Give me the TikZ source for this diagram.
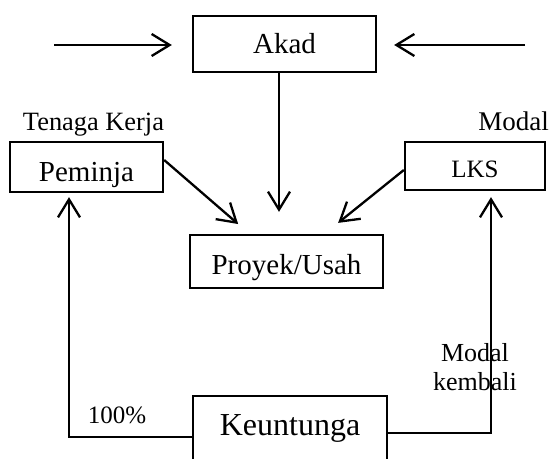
\documentclass[tikz,border=0pt]{standalone}
\usepackage{fontspec}
\setmainfont{Liberation Serif}
\usetikzlibrary{arrows.meta}
\begin{document}
\begin{tikzpicture}[x=0.5pt,y=-0.5pt,
  boxnode/.style={draw,line width=1.15pt,inner sep=0pt,align=center},
  arr/.style={line width=1.15pt,-{Straight Barb[length=9pt,width=11pt,line width=1.15pt]}},
  lbl/.style={inner sep=0pt,anchor=base}]
\useasboundingbox (0,0) rectangle (550,459);
% boxes
\node[boxnode,minimum width=91.5pt,text height=19pt,text depth=9pt,font=\fontsize{14.5pt}{17pt}\selectfont] (akad) at (284.5,44) {Akad};
\node[boxnode,minimum width=76.5pt,text height=20pt,text depth=5pt,font=\fontsize{14.5pt}{17pt}\selectfont] (peminja) at (86.5,167) {Peminja};
\node[boxnode,minimum width=70pt,text height=18pt,text depth=6pt,font=\fontsize{12.5pt}{14pt}\selectfont] (lks) at (475,166) {LKS};
\node[boxnode,minimum width=96.5pt,text height=19.5pt,text depth=7pt,font=\fontsize{14.5pt}{17pt}\selectfont] (proyek) at (286.5,261.5) {Proyek/Usah};
\node[boxnode,minimum width=97pt,text height=19.5pt,text depth=17.5pt,font=\fontsize{16pt}{19pt}\selectfont] (keu) at (290,433) {Keuntunga};
% labels
\node[lbl,font=\fontsize{13.2pt}{15pt}\selectfont] (tk) at (93.5,131) {Tenaga Kerja};
\node[lbl,font=\fontsize{13.5pt}{15pt}\selectfont] (modal) at (513.5,131) {Modal};
\node[lbl,font=\fontsize{12.5pt}{15pt}\selectfont] (pct) at (117,423) {100\%};
\node[lbl,align=center,font=\fontsize{13pt}{14.5pt}\selectfont] (mk) at (475,390) {Modal\\kembali};
% free ends
\coordinate (inL) at (54,45);
\coordinate (inR) at (525,45);
% connectors
\draw[arr,shorten >=10pt] (inL) -- (inL -| akad.west);
\draw[arr,shorten >=8.5pt] (inR) -- (inR -| akad.east);
\draw[arr,shorten >=11pt] ([xshift=-2.75pt]akad.south) -- ([xshift=-2.75pt]akad.south |- proyek.north);
\draw[arr,shorten >=7.5pt] ([yshift=3.5pt]peminja.east) -- ([xshift=-18.5pt]proyek.north);
\draw[arr,shorten >=8.75pt] ([yshift=-2pt]lks.west) -- ([xshift=19pt]proyek.north);
\draw[arr,shorten >=2pt] ([yshift=-2pt]keu.west) -| ([xshift=-8.75pt]peminja.south);
\draw[arr,shorten >=3pt] (keu.east) -| ([xshift=8pt]lks.south);
\end{tikzpicture}
\end{document}
